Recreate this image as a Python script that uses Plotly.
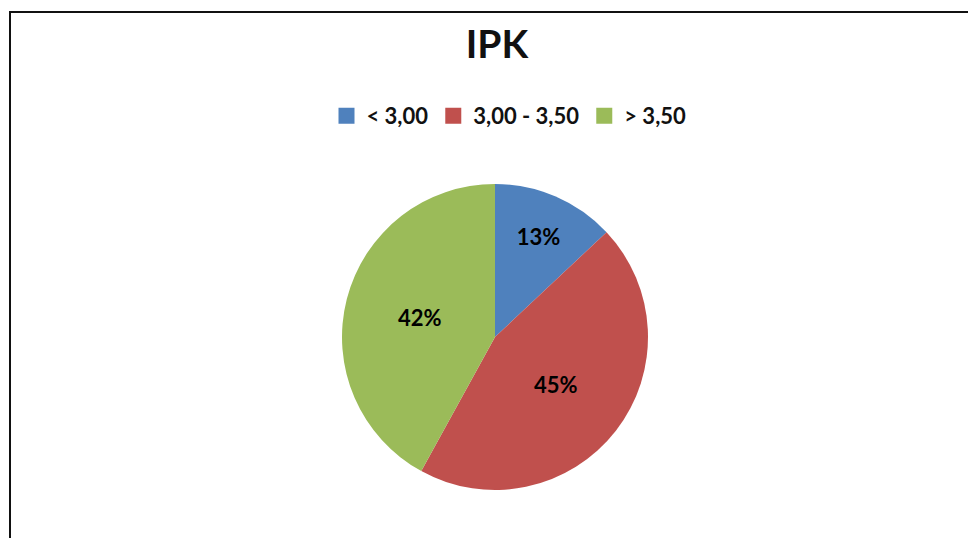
import plotly.graph_objects as go

categories = ["< 3,00", "3,00 - 3,50", "> 3,50"]
values = [13, 45, 42]
colors = ["#4F81BD", "#C0504D", "#9BBB59"]

W, H = 976, 538
OFF = 8  # page body margin of the html page
cx, cy, r = 495 - OFF, 337 - OFF, 153

fig = go.Figure()
fig.add_trace(go.Pie(
    labels=categories,
    values=values,
    sort=False,
    direction="clockwise",
    rotation=0,
    marker=dict(colors=colors, line=dict(width=0)),
    textinfo="percent",
    texttemplate="%{percent:.0%}",
    textposition="inside",
    insidetextorientation="horizontal",
    textfont=dict(family="Lato", size=22, color="#000000", weight="bold"),
    domain=dict(x=[(cx - r) / W, (cx + r) / W],
                y=[(H - cy - r) / H, (H - cy + r) / H]),
    hoverinfo="label+percent",
    showlegend=False,
))

# legend entries (square swatches) for the pie categories
for name, col in zip(categories, colors):
    fig.add_trace(go.Scatter(
        x=[None], y=[None], mode="markers", name=name,
        marker=dict(symbol="square", size=16, color=col),
        hoverinfo="skip",
    ))

fig.update_layout(
    width=W, height=H,
    margin=dict(l=0, r=0, t=0, b=0),
    paper_bgcolor="white",
    plot_bgcolor="white",
    xaxis=dict(visible=False),
    yaxis=dict(visible=False),
    title=dict(text="<b>IPK</b>", x=(497 - OFF) / W, xanchor="center",
               y=1 - (44 - OFF) / H, yanchor="middle",
               font=dict(family="Lato", size=39, color="#111111")),
    legend=dict(orientation="h", x=(509 - OFF) / W, xanchor="center",
                y=1 - (116 - OFF) / H, yanchor="middle",
                font=dict(family="Lato", size=22, color="#111111", weight="bold"),
                itemsizing="trace", traceorder="normal",
                itemclick=False, itemdoubleclick=False,
                bgcolor="rgba(0,0,0,0)"),
    shapes=[dict(type="rect", xref="paper", yref="paper",
                 x0=(10 - OFF) / W, x1=1.02, y0=-0.02, y1=1 - (12 - OFF) / H,
                 line=dict(color="#111111", width=2), fillcolor="rgba(0,0,0,0)")],
)

fig.write_html("out.html")
